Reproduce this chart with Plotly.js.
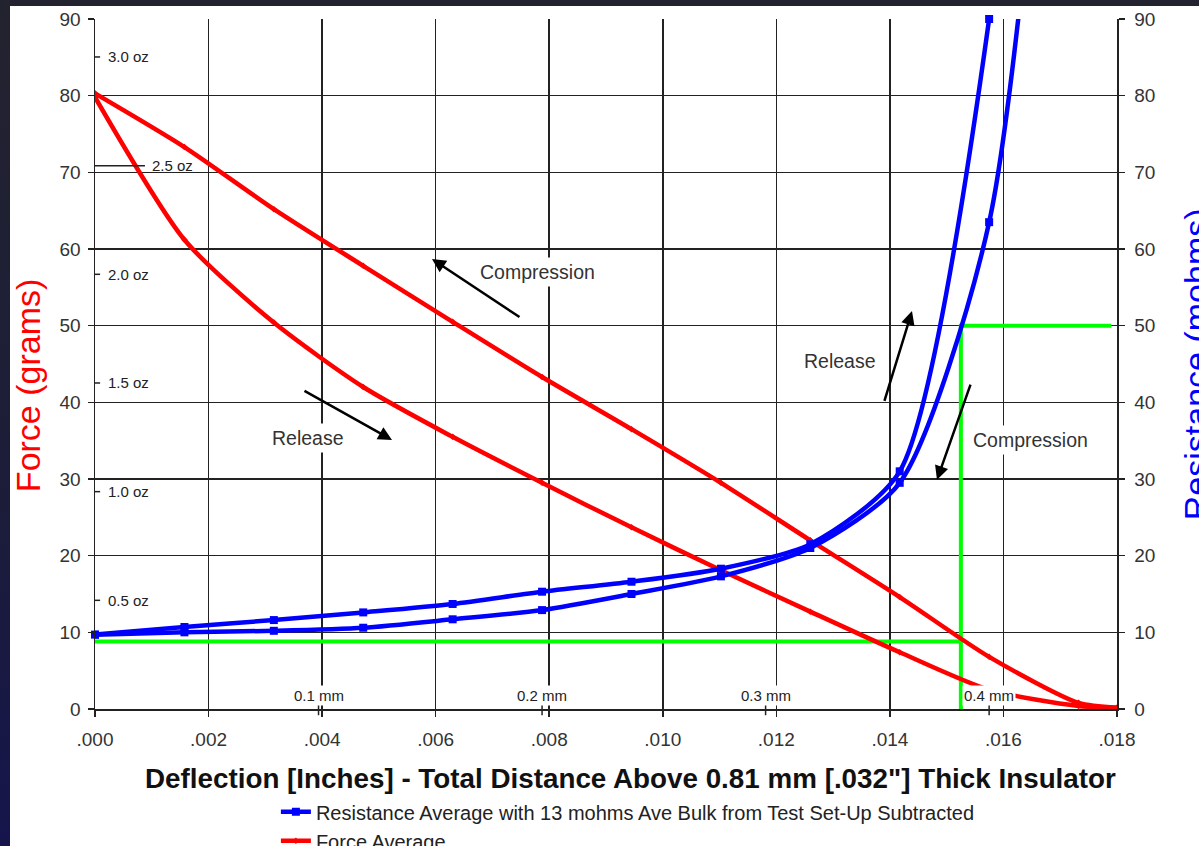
<!DOCTYPE html>
<html>
<head>
<meta charset="utf-8">
<script src="https://cdn.plot.ly/plotly-3.0.1.min.js"></script>
<style>
  html, body { margin: 0; padding: 0; width: 1199px; height: 846px; overflow: hidden;
    background: linear-gradient(to bottom, #23232f 0%, #1c1c3a 60%, #15154c 100%); }
  #chart { position: absolute; left: 10px; top: 6px; width: 1189px; height: 840px; background: #fff; }
</style>
</head>
<body>
<div id="chart"></div>
<script>
// ---- data ----
const deflection = [0, 0.001575, 0.00315, 0.004724, 0.006299, 0.007874, 0.009449, 0.011024, 0.012598, 0.014173, 0.015748, 0.017323, 0.018];
const forceCompression = [80.3, 73.3, 65.2, 57.8, 50.5, 43.3, 36.5, 29.5, 22.0, 14.6, 6.8, 0.8, 0.2];
const forceRelease     = [79.8, 61.2, 50.4, 42.0, 35.5, 29.5, 23.7, 18.1, 12.7, 7.4, 2.5, 0.4, 0.1];
const resistanceRelease     = [9.7, 10.7, 11.6, 12.6, 13.7, 15.3, 16.6, 18.3, 21.5, 31.0, 90.0];
const resistanceCompression = [9.7, 10.0, 10.2, 10.6, 11.7, 12.9, 15.0, 17.3, 21.0, 29.5, 63.5, 175];
const guideX = [0, 0.01525, null, 0.01525, 0.01525, 0.0179];
const guideY = [8.8, 8.8, null, 0, 50, 50];
const xTickVals = [0, 0.002, 0.004, 0.006, 0.008, 0.010, 0.012, 0.014, 0.016, 0.018];
const xTickText = ['.000', '.002', '.004', '.006', '.008', '.010', '.012', '.014', '.016', '.018'];
const ozValues = [0.5, 1.0, 1.5, 2.0, 2.5, 3.0];
const ozLabels = ['0.5 oz', '1.0 oz', '1.5 oz', '2.0 oz', '2.5 oz', '3.0 oz'];
const mmValues = [0.1, 0.2, 0.3, 0.4];
const mmLabels = ['0.1 mm', '0.2 mm', '0.3 mm', '0.4 mm'];
const GRAMS_PER_OZ = 28.3495;
const MM_PER_INCH = 25.4;
// arrow notes: [tailX, tailY, headX, headY]
const arrowNotes = [
  [0.007503, 51.0, 0.005935, 58.7],
  [0.003663, 41.6, 0.005231, 35.1],
  [0.013896, 40.0, 0.014389, 51.9],
  [0.015429, 42.5, 0.014830, 29.9]
];
const noteText = ['Compression', 'Release', 'Release', 'Compression'];
const noteX = [0.0078, 0.00375, 0.01312, 0.01647];
const noteY = [57.0, 35.3, 45.4, 35.1];
const xTitle = 'Deflection [Inches] - Total Distance Above 0.81 mm [.032"] Thick Insulator';
const yTitle = 'Force (grams)';
const y2Title = 'Resistance (mohms)';

const FONT = 'Liberation Sans, Arial, sans-serif';
const BLUE = '#0000ff', RED = '#ff0000', GREEN = '#00ff00';

const traces = [
  { x: guideX, y: guideY, mode: 'lines', line: { color: GREEN, width: 4 }, showlegend: false, hoverinfo: 'skip' },
  { x: deflection.slice(0, resistanceRelease.length), y: resistanceRelease, yaxis: 'y2', mode: 'lines+markers',
    name: 'Resistance Average with 13 mohms Ave Bulk from Test Set-Up Subtracted', legendgroup: 'r',
    line: { color: BLUE, width: 4.5, shape: 'spline', smoothing: 0.7 },
    marker: { symbol: 'square', size: 8, color: BLUE }, cliponaxis: false },
  { x: deflection.slice(0, resistanceCompression.length), y: resistanceCompression, yaxis: 'y2', mode: 'lines+markers',
    name: 'Resistance Average with 13 mohms Ave Bulk from Test Set-Up Subtracted', legendgroup: 'r', showlegend: false,
    line: { color: BLUE, width: 4.5, shape: 'spline', smoothing: 0.7 },
    marker: { symbol: 'square', size: 8, color: BLUE } },
  { x: deflection, y: forceCompression, mode: 'lines+markers', name: 'Force Average', legendgroup: 'f',
    line: { color: RED, width: 4.5, shape: 'spline', smoothing: 0.7 },
    marker: { symbol: 'diamond', size: 5, color: RED } },
  { x: deflection, y: forceRelease, mode: 'lines+markers', name: 'Force Average', legendgroup: 'f', showlegend: false,
    line: { color: RED, width: 4.5, shape: 'spline', smoothing: 0.7 },
    marker: { symbol: 'diamond', size: 5, color: RED } }
];

const annotations = [];
const shapes = [];

// oz reference labels on the force axis
ozValues.forEach((oz, i) => {
  const g = oz * GRAMS_PER_OZ;
  const long = oz === 2.5;
  shapes.push({ type: 'line', xref: 'x', yref: 'y', x0: 0, x1: long ? 0.00088 : 0.00009, y0: g, y1: g,
    line: { color: '#222', width: 1.5 } });
  annotations.push({ xref: 'x', yref: 'y', x: long ? 0.00096 : 0.00019, y: g, text: ozLabels[i], showarrow: false,
    xanchor: 'left', yanchor: 'middle', font: { family: FONT, size: 15, color: '#222' } });
});

// mm reference labels on the deflection axis
mmValues.forEach((mm, i) => {
  const xin = mm / MM_PER_INCH;
  shapes.push({ type: 'line', xref: 'x', yref: 'paper', x0: xin, x1: xin, y0: -0.009, y1: 0.006,
    line: { color: '#222', width: 1.5 } });
  annotations.push({ xref: 'x', yref: 'y', x: xin, y: 1.8, text: mmLabels[i], showarrow: false,
    xanchor: 'center', yanchor: 'middle', font: { family: FONT, size: 15, color: '#222' },
    bgcolor: '#ffffff', borderpad: 1 });
});

// direction arrows
arrowNotes.forEach(a => {
  annotations.push({ xref: 'x', yref: 'y', axref: 'x', ayref: 'y', x: a[2], y: a[3], ax: a[0], ay: a[1],
    text: '', showarrow: true, arrowhead: 2, arrowsize: 1.1, arrowwidth: 2.5, arrowcolor: '#000' });
});
noteText.forEach((t, i) => {
  annotations.push({ xref: 'x', yref: 'y', x: noteX[i], y: noteY[i], text: t, showarrow: false,
    font: { family: FONT, size: 19.5, color: '#333' }, bgcolor: '#ffffff', borderpad: 3 });
});

// axis titles placed as in the reference (right one cut off by the picture edge)
annotations.push({ xref: 'paper', yref: 'paper', x: 0.5235, y: -0.1014, text: xTitle, showarrow: false,
  xanchor: 'center', yanchor: 'middle', font: { family: FONT, size: 27.8, color: '#111', weight: 'bold' } });
annotations.push({ xref: 'paper', yref: 'paper', x: -0.0655, y: 0.468, text: yTitle, textangle: -90,
  showarrow: false, xanchor: 'center', yanchor: 'middle', font: { family: FONT, size: 34, color: RED } });
annotations.push({ xref: 'paper', yref: 'paper', x: 1.0775, y: 0.5, text: y2Title, textangle: -90,
  showarrow: false, xanchor: 'center', yanchor: 'middle', font: { family: FONT, size: 34, color: BLUE } });

const axisCommon = {
  showline: true, linecolor: '#222', linewidth: 1.5,
  ticks: 'outside', ticklen: 6, tickwidth: 1.5, tickcolor: '#222',
  tickfont: { family: FONT, size: 19, color: '#333' }, zeroline: false
};

const layout = {
  width: 1189, height: 840,
  margin: { l: 85, r: 82, t: 13, b: 137 },
  paper_bgcolor: '#ffffff', plot_bgcolor: '#ffffff',
  font: { family: FONT },
  showlegend: true,
  legend: { x: 0.177, xref: 'paper', y: 0.064, yref: 'container', xanchor: 'left', yanchor: 'top', orientation: 'v',
    font: { family: FONT, size: 20, color: '#222' }, bgcolor: 'rgba(0,0,0,0)', tracegroupgap: 0 },
  xaxis: Object.assign({}, axisCommon, {
    range: [0, 0.018], tickvals: xTickVals, ticktext: xTickText, ticklabelstandoff: 7,
    showgrid: true, gridcolor: '#222', gridwidth: 1.5
  }),
  yaxis: Object.assign({}, axisCommon, {
    range: [0, 90], dtick: 10, tick0: 0, ticklabelstandoff: 3,
    showgrid: true, gridcolor: '#222', gridwidth: 1.5
  }),
  yaxis2: Object.assign({}, axisCommon, {
    range: [0, 90], dtick: 10, tick0: 0, overlaying: 'y', side: 'right', showgrid: false, ticklabelstandoff: 6
  }),
  annotations: annotations,
  shapes: shapes,
  hovermode: false
};

Plotly.newPlot('chart', traces, layout, { displayModeBar: false, staticPlot: true });
</script>
</body>
</html>
